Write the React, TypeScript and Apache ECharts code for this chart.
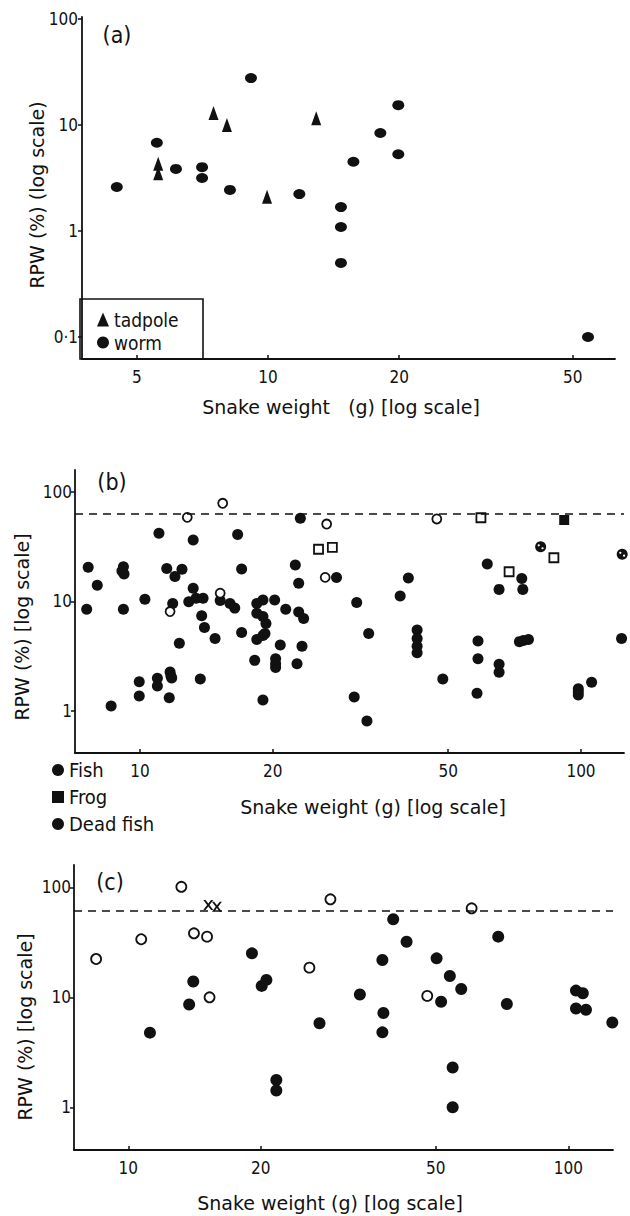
import React, { useEffect, useRef } from "react";
import * as echarts from "echarts";

// ---------- Panel (a) ----------
const aTadpoleWeight = [5.6, 5.6, 7.5, 8.05, 9.95, 12.9];
const aTadpoleRPW = [4.3, 3.5, 13.0, 10.0, 2.1, 11.6];
const aWormWeight = [4.5, 5.56, 6.15, 7.06, 7.06, 8.18, 9.14, 11.8, 14.7, 14.7, 14.7, 15.7, 18.1, 19.9, 19.9, 54.2];
const aWormRPW = [2.6, 6.8, 3.85, 4.0, 3.16, 2.44, 27.7, 2.23, 1.68, 1.09, 0.5, 4.5, 8.4, 15.4, 5.3, 0.1];

// ---------- Panel (b) ----------
const bFishWeight = [
  7.63, 7.57, 8.0, 9.17, 9.2, 9.1, 9.17, 8.6, 10.26, 9.96, 9.96, 10.95, 10.95, 11.65, 11.7, 11.75, 11.8,
  11.04, 13.2, 11.5, 12.0, 12.45, 11.86, 12.28, 13.7, 13.2, 12.9, 13.4, 13.9, 13.8, 14.0, 16.65, 17.0,
  14.8, 15.2, 16.0, 16.4, 17.0, 18.4, 19.0, 20.2, 18.4, 19.0, 19.3, 19.2, 18.4, 19.0, 21.4, 20.8, 18.2,
  20.3, 20.3, 20.3, 19.0, 22.5, 22.9, 22.9, 23.5, 23.3, 22.7, 23.1, 27.9, 31.0, 40.6, 38.9, 33.0, 30.6,
  32.7, 42.5, 42.5, 42.5, 42.5, 48.6, 58.4, 58.4, 58.1, 61.3, 65.2, 73.4, 73.8, 65.2, 65.2, 72.5, 74.0,
  76.0, 123.6, 105.7, 98.6, 98.6, 98.6,
];
const bFishRPW = [
  20.5, 8.5, 14.1, 20.8, 17.8, 19.0, 8.5, 1.11, 10.5, 1.85, 1.37, 1.99, 1.69, 1.32, 2.27, 2.1, 2.0,
  42, 36.5, 20, 16.9, 19.7, 9.6, 4.15, 1.96, 13.2, 9.96, 10.7, 10.7, 7.4, 5.8, 41, 19.8,
  4.6, 10.2, 9.6, 8.7, 5.2, 9.6, 10.3, 10.3, 7.8, 7.3, 6.3, 5.1, 4.5, 4.9, 8.5, 4.0, 2.9,
  3.0, 2.7, 2.5, 1.26, 21.5, 14.7, 8.0, 7.0, 3.9, 2.7, 57.5, 16.6, 9.8, 16.4, 11.2, 5.1, 1.34,
  0.81, 5.5, 4.6, 3.9, 3.4, 1.96, 4.36, 3.0, 1.45, 22, 12.9, 16.2, 12.9, 2.67, 2.26, 4.3, 4.4,
  4.5, 4.6, 1.83, 1.6, 1.5, 1.4,
];
const bFrogWeight = [91.6];
const bFrogRPW = [55.5];
const bDeadFishWeight = [81, 124];
const bDeadFishRPW = [31.6, 27];
const bOpenCircleWeight = [12.8, 15.4, 11.7, 15.2, 26.5, 26.3, 47.1];
const bOpenCircleRPW = [58.7, 78.9, 8.1, 11.9, 51, 16.6, 56.7];
const bOpenSquareWeight = [25.4, 27.3, 59.3, 68.7, 86.8];
const bOpenSquareRPW = [30, 31.2, 58.2, 18.7, 25.1];
const bLimitRPW = 63;

// ---------- Panel (c) ----------
const cOpenWeight = [8.45, 10.7, 13.2, 14.1, 15.1, 15.3, 25.8, 28.8, 60.3, 47.8];
const cOpenRPW = [22.3, 33.7, 101, 38.2, 35.6, 10, 18.6, 77.8, 64.4, 10.3];
const cCrossWeight = [15.2, 15.9];
const cCrossRPW = [69, 66.7];
const cFilledWeight = [
  11.2, 14.05, 13.75, 19.1, 20.1, 20.6, 21.7, 21.7, 27.2, 40.0, 42.9, 37.8, 33.6, 38.0, 37.8, 50.2,
  53.8, 57.1, 51.4, 54.6, 54.6, 69.3, 72.5, 104.1, 107.9, 104.1, 109.7, 125.9,
];
const cFilledRPW = [
  4.77, 13.9, 8.6, 25.1, 12.7, 14.4, 1.77, 1.42, 5.8, 51.2, 32, 21.8, 10.6, 7.2, 4.8, 22.6,
  15.6, 11.9, 9.1, 2.3, 1.0, 35.6, 8.7, 11.5, 10.9, 7.9, 7.7, 5.9,
];
const cLimitRPW = 61;

// ---------- Tick labels ----------
const aXTicks = [5, 10, 20, 50];
const bcXTicks = [10, 20, 50, 100];
const aYTicks = [0.1, 1, 10, 100];
const bcYTicks = [1, 10, 100];

const L = Math.log10;
const pts = (ws: number[], vs: number[]) => ws.map((w, i) => [L(w), L(vs[i])]);

const INK = "#111";
const FONT = "'DejaVu Sans Condensed', 'Liberation Sans Narrow', 'DejaVu Sans', sans-serif";
const TITLE_FONT = "'DejaVu Sans', 'Noto Sans', sans-serif";

function makeX(grid: number, min: number, max: number, ticks: number[]) {
  const vals = ticks.map(L);
  return {
    type: "value",
    gridIndex: grid,
    min,
    max,
    axisLine: { show: true, onZero: false, lineStyle: { color: INK, width: 1.8 } },
    axisTick: { show: true, inside: true, length: 4, lineStyle: { color: INK, width: 1.5 }, customValues: vals },
    axisLabel: {
      customValues: vals,
      formatter: (v: number) => String(Math.round(Math.pow(10, v))),
      color: INK,
      fontSize: 17,
      fontFamily: FONT,
      margin: 9,
    },
    splitLine: { show: false },
  };
}

function makeY(grid: number, min: number, max: number, ticks: number[], margin: number) {
  const vals = ticks.map(L);
  return {
    type: "value",
    gridIndex: grid,
    min,
    max,
    axisLine: { show: true, onZero: false, lineStyle: { color: INK, width: 1.8 } },
    axisTick: { show: true, inside: false, length: 4, lineStyle: { color: INK, width: 1.5 }, customValues: vals },
    axisLabel: {
      customValues: vals,
      formatter: (v: number) => {
        const n = Math.pow(10, v);
        return n < 0.5 ? "0·1" : String(Math.round(n));
      },
      color: INK,
      fontSize: 17,
      fontFamily: FONT,
      margin,
    },
    splitLine: { show: false },
  };
}

const CROSS = "path://M0,0L2.2,0L5,3.6L7.8,0L10,0L6.2,5L10,10L7.8,10L5,6.4L2.2,10L0,10L3.8,5Z";
const DOTS = "path://M0,1.5a1.5,1.5 0 1,0 3,0a1.5,1.5 0 1,0 -3,0Z M5,5.5a1.5,1.5 0 1,0 3,0a1.5,1.5 0 1,0 -3,0Z";

function scatter(name: string, idx: number, data: number[][], extra: any) {
  const { itemStyle, ...rest } = extra || {};
  return {
    type: "scatter",
    name,
    xAxisIndex: idx,
    yAxisIndex: idx,
    data,
    clip: false,
    silent: true,
    itemStyle: { color: INK, opacity: 1, ...(itemStyle || {}) },
    ...rest,
  };
}

function limitLine(value: number) {
  return {
    silent: true,
    symbol: ["none", "none"],
    label: { show: false },
    lineStyle: { type: [8, 6], color: INK, width: 1.5, opacity: 1 },
    data: [{ yAxis: L(value) }],
  };
}

const titleStyle = { fill: INK, fontSize: 19, fontFamily: TITLE_FONT };

const option: any = {
  animation: false,
  backgroundColor: "#fff",
  grid: [
    { left: 82, top: 17, width: 533, height: 342 },
    { left: 75, top: 470, width: 549, height: 283 },
    { left: 74, top: 865, width: 539, height: 285 },
  ],
  xAxis: [
    makeX(0, 0.5734, 1.7959, aXTicks),
    makeX(1, 0.8526, 2.0975, bcXTicks),
    makeX(2, 0.8766, 2.1016, bcXTicks),
  ],
  yAxis: [
    makeY(0, -1.2075, 2.0189, aYTicks, 4),
    makeY(1, -0.3836, 2.2009, bcYTicks, 3),
    makeY(2, -0.3882, 2.2027, bcYTicks, 3),
  ],
  legend: [
    {
      left: 97,
      top: 310,
      orient: "vertical",
      padding: 0,
      itemGap: 4,
      itemWidth: 12,
      itemHeight: 14,
      selectedMode: false,
      textStyle: { color: INK, fontSize: 19, fontFamily: FONT },
      data: [
        { name: "tadpole", icon: "triangle" },
        { name: "worm", icon: "circle" },
      ],
    },
    {
      left: 52,
      top: 760,
      orient: "vertical",
      padding: 0,
      itemGap: 7,
      itemWidth: 12,
      itemHeight: 12,
      selectedMode: false,
      textStyle: { color: INK, fontSize: 20, fontFamily: FONT },
      data: [
        { name: "Fish", icon: "circle" },
        { name: "Frog", icon: "rect" },
        { name: "Dead fish", icon: "circle" },
      ],
    },
  ],
  series: [
    // (a)
    scatter("tadpole", 0, pts(aTadpoleWeight, aTadpoleRPW), { symbol: "triangle", symbolSize: [10, 14] }),
    scatter("worm", 0, pts(aWormWeight, aWormRPW), { symbol: "circle", symbolSize: [12, 10] }),
    // (b)
    scatter("Fish", 1, pts(bFishWeight, bFishRPW), { symbol: "circle", symbolSize: 11, markLine: limitLine(bLimitRPW) }),
    scatter("Frog", 1, pts(bFrogWeight, bFrogRPW), { symbol: "rect", symbolSize: 10 }),
    scatter("Dead fish", 1, pts(bDeadFishWeight, bDeadFishRPW), { symbol: "circle", symbolSize: 11 }),
    scatter("dead-fish-dots", 1, pts(bDeadFishWeight, bDeadFishRPW), {
      symbol: DOTS,
      symbolSize: [6, 5],
      itemStyle: { color: "#fff" },
      z: 3,
    }),
    scatter("b-open-circle", 1, pts(bOpenCircleWeight, bOpenCircleRPW), {
      symbol: "circle",
      symbolSize: 9,
      itemStyle: { color: "#fff", borderColor: INK, borderWidth: 1.8 },
    }),
    scatter("b-open-square", 1, pts(bOpenSquareWeight, bOpenSquareRPW), {
      symbol: "rect",
      symbolSize: 9,
      itemStyle: { color: "#fff", borderColor: INK, borderWidth: 1.8 },
    }),
    // (c)
    scatter("c-filled", 2, pts(cFilledWeight, cFilledRPW), { symbol: "circle", symbolSize: 12, markLine: limitLine(cLimitRPW) }),
    scatter("c-open", 2, pts(cOpenWeight, cOpenRPW), {
      symbol: "circle",
      symbolSize: 10,
      itemStyle: { color: "#fff", borderColor: INK, borderWidth: 1.8 },
    }),
    scatter("c-cross", 2, pts(cCrossWeight, cCrossRPW), { symbol: CROSS, symbolSize: 10 }),
  ],
  graphic: [
    {
      type: "rect",
      shape: { x: 80, y: 299, width: 123, height: 60 },
      style: { fill: "none", stroke: INK, lineWidth: 1.6 },
      z: 1,
    },
    { type: "text", x: 117, y: 35, style: { text: "(a)", textAlign: "center", textVerticalAlign: "middle", fill: INK, fontSize: 23, fontFamily: FONT } },
    { type: "text", x: 112, y: 482, style: { text: "(b)", textAlign: "center", textVerticalAlign: "middle", fill: INK, fontSize: 23, fontFamily: FONT } },
    { type: "text", x: 110, y: 882, style: { text: "(c)", textAlign: "center", textVerticalAlign: "middle", fill: INK, fontSize: 23, fontFamily: FONT } },
    { type: "text", x: 37, y: 195, rotation: Math.PI / 2, style: { text: "RPW (%) (log scale)", textAlign: "center", textVerticalAlign: "middle", ...titleStyle } },
    { type: "text", x: 22, y: 627, rotation: Math.PI / 2, style: { text: "RPW (%) [log scale]", textAlign: "center", textVerticalAlign: "middle", ...titleStyle } },
    { type: "text", x: 25, y: 1027, rotation: Math.PI / 2, style: { text: "RPW (%) [log scale]", textAlign: "center", textVerticalAlign: "middle", ...titleStyle } },
    { type: "text", x: 341, y: 407, style: { text: "Snake weight   (g) [log scale]", textAlign: "center", textVerticalAlign: "middle", ...titleStyle } },
    { type: "text", x: 373, y: 807, style: { text: "Snake weight (g) [log scale]", textAlign: "center", textVerticalAlign: "middle", ...titleStyle } },
    { type: "text", x: 330, y: 1203, style: { text: "Snake weight (g) [log scale]", textAlign: "center", textVerticalAlign: "middle", ...titleStyle } },
  ],
};

export default function App() {
  const ref = useRef<HTMLDivElement>(null);
  useEffect(() => {
    document.body.style.margin = "0";
    const chart = echarts.init(ref.current as HTMLDivElement, null, { renderer: "svg" });
    chart.setOption(option);
    return () => chart.dispose();
  }, []);
  return <div ref={ref} style={{ width: 630, height: 1216, background: "#fff" }} />;
}
